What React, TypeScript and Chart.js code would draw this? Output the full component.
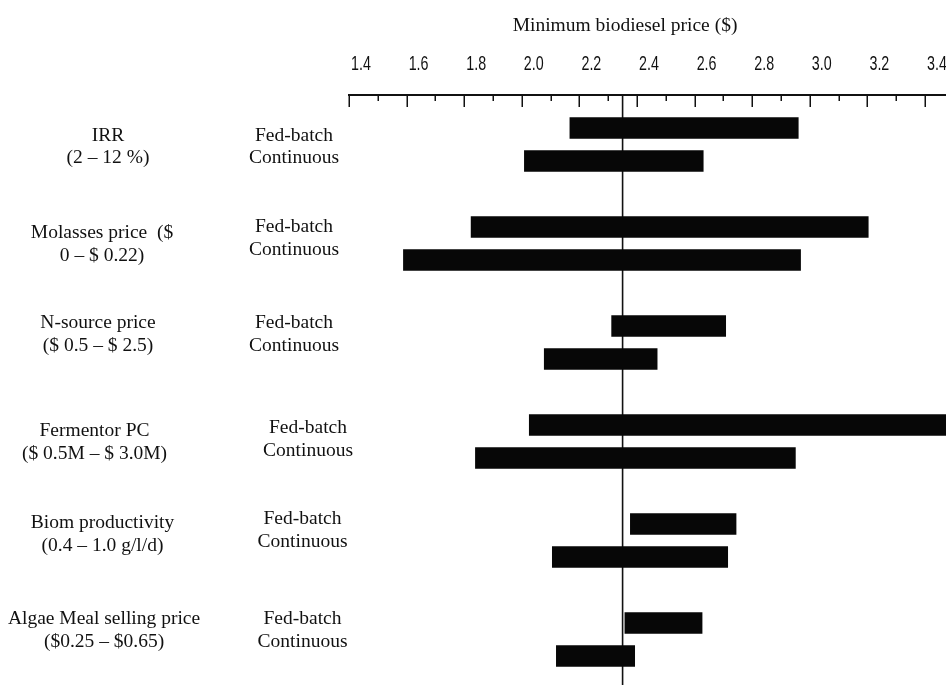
import React, { useEffect, useRef } from "react";
import { Chart, registerables } from "chart.js";

Chart.register(...registerables);

// ---------- data ----------
const parameterNames = [
  "IRR",
  "Molasses price  ($",
  "N-source price",
  "Fermentor PC",
  "Biom productivity",
  "Algae Meal selling price",
];
const parameterRanges = [
  "(2 – 12 %)",
  "0 – $ 0.22)",
  "($ 0.5 – $ 2.5)",
  "($ 0.5M – $ 3.0M)",
  "(0.4 – 1.0 g/l/d)",
  "($0.25 – $0.65)",
];
const seriesNames = ["Fed-batch", "Continuous"];

const fedBatchLow = [2.167, 1.824, 2.312, 2.026, 2.377, 2.358];
const fedBatchHigh = [2.96, 3.203, 2.708, 3.6, 2.744, 2.626];
const continuousLow = [2.009, 1.589, 2.078, 1.839, 2.106, 2.12];
const continuousHigh = [2.63, 2.968, 2.47, 2.95, 2.715, 2.392];

const baseCasePrice = 2.35;
const axisTitle = "Minimum biodiesel price ($)";
const xMin = 1.4;
const xMax = 3.473;
const majorTickStep = 0.2;
const minorTickStep = 0.1;

// ---------- layout (positions of free text) ----------
const labelLayout = [
  { nameX: 108, nameY: [136, 158], sideX: 294, sideY: [136, 158] },
  { nameX: 102, nameY: [233, 256], sideX: 294, sideY: [227, 250] },
  { nameX: 98, nameY: [323, 346], sideX: 294, sideY: [323, 346] },
  { nameX: 94.5, nameY: [431, 454], sideX: 308, sideY: [428, 451] },
  { nameX: 102.5, nameY: [523, 546], sideX: 302.5, sideY: [519, 542] },
  { nameX: 104, nameY: [619, 642], sideX: 302.5, sideY: [619, 642] },
];

const SERIF = "'Liberation Serif', 'Times New Roman', serif";
const SANS = "'Liberation Sans', Arial, sans-serif";

export default function App() {
  const ref = useRef<HTMLCanvasElement>(null);

  useEffect(() => {
    const canvas = ref.current;
    if (!canvas) return;

    const series = [
      { low: fedBatchLow, high: fedBatchHigh },
      { low: continuousLow, high: continuousHigh },
    ];
    const datasets = series.map((s, si) => ({
      label: seriesNames[si],
      data: s.low.map((lo, g) => ({ x: [lo, s.high[g]], y: g * 3 + si })),
      backgroundColor: "#070707",
      borderWidth: 0,
      barThickness: 21,
      grouped: false,
    }));

    const annotations = {
      id: "annotations",
      beforeDatasetsDraw(chart: any) {
        const { ctx, chartArea, scales } = chart;
        const x = scales.x.getPixelForValue(baseCasePrice);
        ctx.save();
        ctx.strokeStyle = "#111";
        ctx.lineWidth = 1.6;
        ctx.beginPath();
        ctx.moveTo(x, chartArea.top);
        ctx.lineTo(x, chartArea.bottom);
        ctx.stroke();
        ctx.restore();
      },
      afterDraw(chart: any) {
        const { ctx, chartArea, scales } = chart;
        const xs = scales.x;
        ctx.save();
        // tick marks pointing down from the axis line
        ctx.strokeStyle = "#111";
        ctx.lineWidth = 1.5;
        const n = Math.floor((xMax - xMin) / minorTickStep + 1e-6);
        for (let k = 0; k <= n; k++) {
          const v = xMin + k * minorTickStep;
          const px = Math.round(xs.getPixelForValue(v)) + 0.25;
          const r = (v - xMin) / majorTickStep;
          const isMajor = Math.abs(r - Math.round(r)) < 1e-6;
          const len = isMajor ? 12 : 6;
          ctx.beginPath();
          ctx.moveTo(px, chartArea.top);
          ctx.lineTo(px, chartArea.top + len);
          ctx.stroke();
        }
        // condensed tick labels (from the scale's own ticks)
        ctx.fillStyle = "#111";
        ctx.font = `21px ${SANS}`;
        ctx.textAlign = "center";
        ctx.textBaseline = "middle";
        xs.ticks.forEach((t: any, i: number) => {
          const px = xs.getPixelForTick(i) + 12;
          ctx.save();
          ctx.translate(px, 64);
          ctx.scale(0.68, 1);
          ctx.fillText(String(t.label), 0, 0);
          ctx.restore();
        });
        // axis title
        ctx.font = `19.5px ${SERIF}`;
        ctx.fillText(axisTitle, 625, 26);
        // left labels
        labelLayout.forEach((l, g) => {
          ctx.fillText(parameterNames[g], l.nameX, l.nameY[0]);
          ctx.fillText(parameterRanges[g], l.nameX, l.nameY[1]);
          ctx.fillText(seriesNames[0], l.sideX, l.sideY[0]);
          ctx.fillText(seriesNames[1], l.sideX, l.sideY[1]);
        });
        ctx.restore();
      },
    };

    const chart = new Chart(canvas, {
      type: "bar",
      data: { datasets } as any,
      options: {
        responsive: false,
        animation: false,
        indexAxis: "y",
        layout: { padding: { left: 349, right: 0, top: 0, bottom: 0 } },
        plugins: {
          legend: { display: false },
          tooltip: { enabled: false },
          title: { display: false },
        },
        scales: {
          x: {
            type: "linear",
            position: "top",
            min: xMin,
            max: xMax,
            offset: false,
            grid: { display: false, drawTicks: false },
            border: { display: true, color: "#111", width: 2 },
            ticks: {
              display: false,
              stepSize: majorTickStep,
              includeBounds: false,
              autoSkip: false,
              maxRotation: 0,
              minRotation: 0,
              callback: (v: any) => Number(v).toFixed(1),
            },
            afterFit: (s: any) => {
              s.height = 95;
              s.paddingLeft = 0;
              s.paddingRight = 0;
            },
          },
          y: {
            type: "linear",
            display: false,
            reverse: true,
            offset: false,
            grace: 0,
            min: -1.0,
            max: 16.88,
          },
        },
      } as any,
      plugins: [annotations],
    });

    return () => chart.destroy();
  }, []);

  return (
    <div style={{ position: "fixed", left: 0, top: 0, width: 946, height: 685, background: "#fff" }}>
      <canvas ref={ref} width={946} height={685} style={{ display: "block", width: 946, height: 685 }} />
    </div>
  );
}
